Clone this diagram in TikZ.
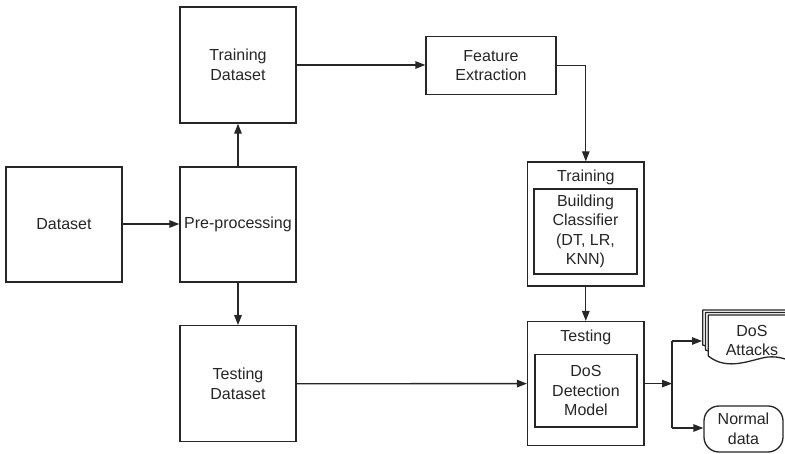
\documentclass[tikz,border=0pt]{standalone}
\usepackage{fontspec}
\setmainfont{Liberation Sans}
\usetikzlibrary{arrows.meta,calc}
\tikzset{
  ln/.style={draw=black!85, line width=1.3pt},
  box/.style={ln, fill=white, rectangle, inner sep=0pt, align=center,
    font=\fontsize{16}{19.5}\selectfont, text=black!85},
  lbl/.style={inner sep=0pt, align=center, font=\fontsize{16}{19.5}\selectfont, text=black!85},
  arr/.style={ln, -{Triangle[length=10pt,width=7.5pt]}},
  sheet/.style={ln, fill=white, line join=round}
}
\begin{document}
\begin{tikzpicture}[x=1pt,y=-1pt]
\useasboundingbox (0,0) rectangle (785,454);
\clip (0,0) rectangle (785,454);
% main boxes
\node[box, minimum width=116pt, minimum height=115pt] (ds)  at (64,224.5) {Dataset};
\node[box, minimum width=116pt, minimum height=115pt] (pre) at (238,224.5) {Pre-processing};
\node[box, minimum width=116pt, minimum height=116pt] (trd) at (238,65) {Training\\Dataset};
\node[box, minimum width=116pt, minimum height=116pt] (ted) at (238,383.7) {Testing\\Dataset};
\node[box, minimum width=130pt, minimum height=58pt] (fe) at (491,65.5) {Feature\\Extraction};
% training block
\node[box, minimum width=116.5pt, minimum height=124pt] (tr) at (585.8,224) {};
\node[lbl] (trl) at (585.8,177) {Training};
\node[box, minimum width=103pt, minimum height=85pt] (tri) at (585.5,231.5) {Building\\Classifier\\(DT, LR,\\KNN)};
% testing block
\node[box, minimum width=116.5pt, minimum height=124pt] (te) at (585.8,383.6) {};
\node[lbl] (tel) at (585.8,337) {Testing};
\node[box, minimum width=102pt, minimum height=72.5pt] (tei) at (586,390.7) {DoS\\Detection\\Model};
% outputs
\node[box, rounded corners=15pt, minimum width=79pt, minimum height=46pt] (nd) at (743.5,429) {Normal\\data};
% DoS attacks multi-document
\draw[sheet] (702.7,345) -- (702.7,310) -- (800,310) -- (800,348) .. controls (780,340) and (740,358) .. (702.7,345) -- cycle;
\draw[sheet] (705.5,350) -- (705.5,312.5) -- (800,312.5) -- (800,352) .. controls (780,345) and (745,364) .. (705.5,350) -- cycle;
\draw[sheet] (708.3,356) -- (708.3,315) -- (800,315) -- (800,366)
  .. controls (790,360) and (780,356) .. (768,357)
  .. controls (752,359) and (728,372) .. (708.3,356) -- cycle;
\node[lbl] (dos) at (752,340.5) {DoS\\Attacks};
\coordinate (dosin) at (702,341);
\coordinate (br) at (672,383.6);
\coordinate (brt) at (672,341);
\coordinate (brb) at (672,428);
% connectors
\draw[arr] (ds.east |- 0,224) -- (pre.west |- 0,224);
\draw[arr] (pre.north) -- (trd.south);
\draw[arr] (pre.south) -- (ted.north);
\draw[arr] (trd.east |- 0,65) -- (fe.west |- 0,65);
\draw[arr] (fe.east) -| (tr.north);
\draw[arr] (tr.south) -- (te.north);
\draw[arr] (ted.east) -- (te.west);
\draw[arr] (te.east |- br) -- (br);
\draw[ln] (brt) -- (brb);
\draw[arr] (brt) -- (dosin);
\draw[arr] (brb) -- (nd.west |- brb);
\end{tikzpicture}
\end{document}
